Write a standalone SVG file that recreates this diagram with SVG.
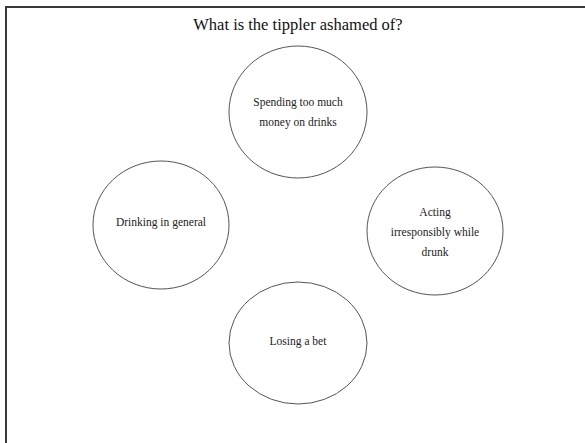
<svg xmlns="http://www.w3.org/2000/svg" width="585" height="443" viewBox="0 0 585 443">
  <style>
    .frame { fill: none; stroke: #3a3a3a; stroke-width: 2; }
    .node ellipse { fill: #ffffff; stroke: #555555; stroke-width: 1; }
    .node text { font-family: "Liberation Serif", serif; font-size: 11.5px; fill: #222222; text-anchor: middle; }
    .title { font-family: "Liberation Serif", serif; font-size: 16.5px; fill: #111111; text-anchor: middle; }
  </style>
  <rect width="585" height="443" fill="#ffffff"/>
  <!-- panel border: left and top edges only -->
  <path class="frame" d="M6 443 V7 H585"/>
  <text class="title" x="298" y="30">What is the tippler ashamed of?</text>

  <g id="connectors"></g>

  <g id="node-money" class="node">
    <ellipse cx="298" cy="112" rx="69" ry="66"/>
    <text x="298" y="106">Spending too much</text>
    <text x="298" y="126">money on drinks</text>
  </g>
  <g id="node-general" class="node">
    <ellipse cx="161" cy="225" rx="68" ry="64"/>
    <text x="161" y="226">Drinking in general</text>
  </g>
  <g id="node-acting" class="node">
    <ellipse cx="435" cy="231" rx="68" ry="64"/>
    <text x="435" y="216">Acting</text>
    <text x="435" y="236">irresponsibly while</text>
    <text x="435" y="256">drunk</text>
  </g>
  <g id="node-bet" class="node">
    <ellipse cx="298" cy="343" rx="69" ry="61"/>
    <text x="298" y="345">Losing a bet</text>
  </g>
</svg>
